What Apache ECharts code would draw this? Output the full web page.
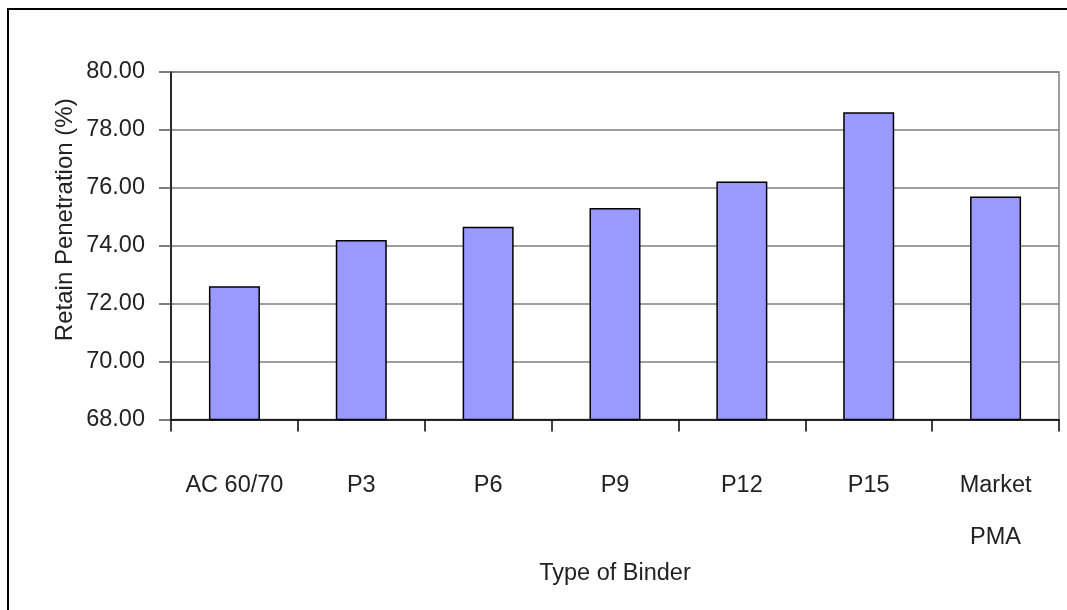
<!DOCTYPE html>
<html>
<head>
<meta charset="utf-8">
<script src="https://cdn.jsdelivr.net/npm/echarts@6/dist/echarts.min.js"></script>
<style>
  html, body { margin: 0; padding: 0; background: #ffffff; }
  #chart { width: 1067px; height: 610px; }
</style>
</head>
<body>
<div id="chart"></div>
<script>
// Binder types along the x axis
const categories = ['AC 60/70', 'P3', 'P6', 'P9', 'P12', 'P15', 'Market\nPMA'];
// Retained penetration (%) for each binder
const retainPenetration = [72.6, 74.2, 74.66, 75.3, 76.22, 78.61, 75.7];
// Value axis range
const yMin = 68;
const yMax = 80;
const yStep = 2;

const FONT = '"Liberation Sans", Arial, sans-serif';
const TEXT = '#222222';

const chart = echarts.init(document.getElementById('chart'), null, { renderer: 'canvas' });

chart.setOption({
  backgroundColor: '#ffffff',
  animation: false,
  textStyle: { fontFamily: FONT },
  graphic: [{
    type: 'rect',
    shape: { x: 8, y: 9, width: 1080, height: 620 },
    style: { fill: 'none', stroke: '#000000', lineWidth: 2 },
    silent: true,
    z: 100
  }],
  grid: {
    left: 171, right: 8, top: 72, bottom: 190.5,
    show: true,
    borderColor: '#808080',
    borderWidth: 1.5,
    backgroundColor: 'transparent'
  },
  xAxis: {
    type: 'category',
    data: categories,
    name: 'Type of Binder',
    nameLocation: 'middle',
    nameGap: 142,
    nameMoveOverlap: false,
    nameTextStyle: { fontSize: 23.5, color: TEXT, fontFamily: FONT },
    axisLine: { show: true, lineStyle: { color: '#000000', width: 1.5 } },
    axisTick: { show: true, length: 12, lineStyle: { color: '#000000', width: 1.5 } },
    axisLabel: {
      fontSize: 23.5, color: TEXT, fontFamily: FONT,
      margin: 40, lineHeight: 52, interval: 0
    },
    splitLine: { show: false }
  },
  yAxis: {
    type: 'value',
    min: yMin,
    max: yMax,
    interval: yStep,
    name: 'Retain Penetration (%)',
    nameLocation: 'middle',
    nameGap: 94,
    nameRotate: 90,
    nameMoveOverlap: false,
    nameTextStyle: {
      fontSize: 24, color: TEXT, fontFamily: FONT,
      padding: [0, 0, 0, 52]
    },
    axisLine: { show: true, lineStyle: { color: '#000000', width: 1.5 } },
    axisTick: { show: true, inside: false, length: 12, lineStyle: { color: '#555555', width: 1.5 } },
    axisLabel: {
      fontSize: 23.5, color: TEXT, fontFamily: FONT, margin: 26,
      formatter: v => v.toFixed(2)
    },
    splitLine: { show: true, lineStyle: { color: '#7f7f7f', width: 1.5 } }
  },
  series: [{
    type: 'bar',
    data: retainPenetration,
    barWidth: 51,
    itemStyle: { color: '#9999ff', borderColor: '#000000', borderWidth: 1.5 }
  }]
});
</script>
</body>
</html>
